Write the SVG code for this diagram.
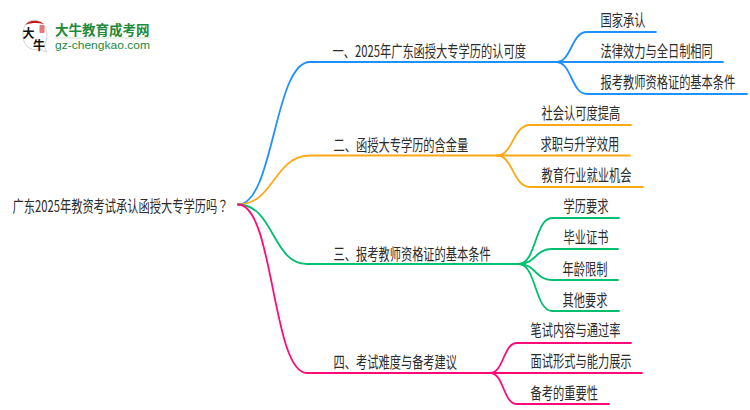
<svg xmlns="http://www.w3.org/2000/svg" width="750" height="410" viewBox="0 0 750 410">
<style>
text{font-family:"Noto Sans CJK SC","Liberation Sans",sans-serif;font-size:16px;fill:#2b2b2b}
.t{transform:scale(.703,1)}
.tc{font-family:"Noto Sans CJK TC","Liberation Sans",sans-serif}
.c{fill:none;stroke-width:1.8;stroke-linecap:round}
.b{stroke:#1e90ff}.o{stroke:#ffa815}.g{stroke:#00c070}.p{stroke:#ff0a78}
</style>
<rect width="750" height="410" fill="#fff"/>
<g id="logo">
<path d="M31 20.500C40 19 47 26 47 35C47 40 45 43 44 46L47 52L39 49C30 52 23 45 23 35C23 27 26 22 31 20.500Z" fill="#fff" stroke="#d4d4d4"/>
<path d="M25 25C29 20 38 19 44 24C38 22.500 31 22.500 25 25Z" fill="#c8161d"/>
<rect x="39.500" y="25" width="5" height="8" rx="1" fill="#e27878"/>
<text x="22.500" y="38" style="font-size:12px;font-weight:700;fill:#111">大</text>
<text x="33" y="49.500" style="font-size:12px;font-weight:700;fill:#111">牛</text>
<text x="55" y="34.500" style="font-size:13.500px;font-weight:700;fill:#1e8a3c">大牛教育成考网</text>
<path d="M55 38H150" stroke="#cfe3d4" stroke-width="1" fill="none"/>
<text x="55" y="49" style="font-family:'Liberation Sans',sans-serif;font-size:11.500px;fill:#1e8a3c" textLength="95" lengthAdjust="spacingAndGlyphs">gz-chengkao.com</text>
</g>
<g id="connectors">
<path class="c b" d="M238 204.500C274 204.500 274 62 310 62H556"/>
<path class="c o" d="M238 204.500C274 204.500 274 155.500 310 155.500H497"/>
<path class="c g" d="M238 204.500C274 204.500 272 264 307 264H519"/>
<path class="c p" d="M238 204.500C274 204.500 272 373 307 373H490"/>
<path class="c b" d="M556 62C572 62 571 32 587 32H656"/>
<path class="c b" d="M556 62H723"/>
<path class="c b" d="M556 62C572 62 571 94 587 94H747"/>
<path class="c o" d="M497 155.500C513 155.500 513 125 530 125H631"/>
<path class="c o" d="M497 155.500H630"/>
<path class="c o" d="M497 155.500C513 155.500 513 187 530 187H643"/>
<path class="c g" d="M519 264C536 264 535 218 552 218H619"/>
<path class="c g" d="M519 264C536 264 535 249 552 249H618"/>
<path class="c g" d="M519 264C536 264 535 280 552 280H618"/>
<path class="c g" d="M519 264C536 264 535 311 552 311H619"/>
<path class="c p" d="M490 373C504 373 503 343 517 343H631"/>
<path class="c p" d="M490 373H642"/>
<path class="c p" d="M490 373C504 373 503 404 517 404H609"/>
</g>
<g id="root" transform="translate(12.500 211.500)"><text class="t tc">广东2025年教资考试承认函授大专学历吗？</text></g>
<g id="n1" transform="translate(332.500 56.500)"><text class="t">一、2025年广东函授大专学历的认可度</text></g>
<g id="n1a" transform="translate(600.500 25.500)"><text class="t">国家承认</text></g>
<g id="n1b" transform="translate(600.500 56.500)"><text class="t">法律效力与全日制相同</text></g>
<g id="n1c" transform="translate(600.500 88)"><text class="t">报考教师资格证的基本条件</text></g>
<g id="n2" transform="translate(333.500 150.500)"><text class="t">二、函授大专学历的含金量</text></g>
<g id="n2a" transform="translate(541.500 118.500)"><text class="t">社会认可度提高</text></g>
<g id="n2b" transform="translate(540.500 150)"><text class="t">求职与升学效用</text></g>
<g id="n2c" transform="translate(541.500 181)"><text class="t">教育行业就业机会</text></g>
<g id="n3" transform="translate(333.500 259.500)"><text class="t">三、报考教师资格证的基本条件</text></g>
<g id="n3a" transform="translate(563.500 211.500)"><text class="t">学历要求</text></g>
<g id="n3b" transform="translate(563.500 242.500)"><text class="t">毕业证书</text></g>
<g id="n3c" transform="translate(562.500 274.500)"><text class="t">年龄限制</text></g>
<g id="n3d" transform="translate(562.500 305.500)"><text class="t">其他要求</text></g>
<g id="n4" transform="translate(333.500 367.500)"><text class="t">四、考试难度与备考建议</text></g>
<g id="n4a" transform="translate(530.500 335.500)"><text class="t">笔试内容与通过率</text></g>
<g id="n4b" transform="translate(530.500 366.500)"><text class="t">面试形式与能力展示</text></g>
<g id="n4c" transform="translate(530.500 398.500)"><text class="t">备考的重要性</text></g>
</svg>
